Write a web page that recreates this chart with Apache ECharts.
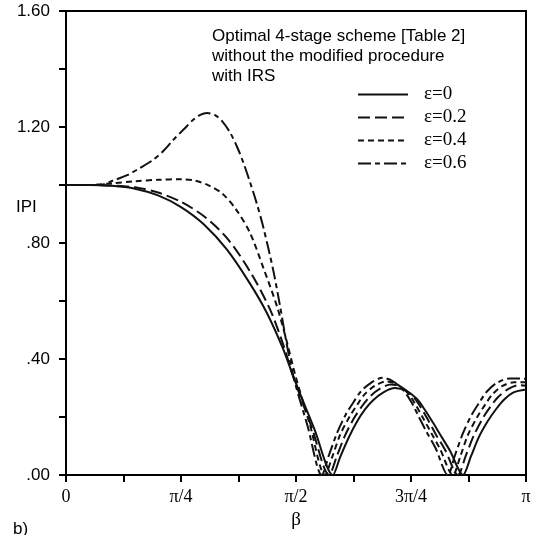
<!DOCTYPE html>
<html><head><meta charset="utf-8">
<script src="https://cdn.jsdelivr.net/npm/echarts@6/dist/echarts.min.js"></script>
<style>html,body{margin:0;padding:0;background:#fff}#c{width:534px;height:535px}</style>
</head><body><div id="c"></div>
<script>
// beta is given in units of pi (0 .. 1); values are |P|
const seriesNames = ['ε=0', 'ε=0.2', 'ε=0.4', 'ε=0.6'];

const eps0 = [[0,1],[0.05,1],[0.1,0.997],[0.15,0.987],[0.2,0.964],[0.25,0.924],[0.3,0.864],[0.35,0.777],[0.4,0.66],[0.437,0.558],[0.472,0.435],[0.495,0.336],[0.54,0.158],[0.58,0],
  [0.596,0.062],[0.615,0.13],[0.633,0.185],[0.65,0.226],[0.667,0.257],[0.69,0.285],[0.715,0.3],[0.74,0.29],[0.763,0.262],[0.78,0.225],[0.798,0.18],[0.815,0.135],[0.835,0.083],[0.863,0],
  [0.88,0.063],[0.897,0.129],[0.917,0.186],[0.934,0.225],[0.951,0.258],[0.973,0.285],[1.0,0.295]];

const eps02 = [[0,1],[0.05,1],[0.1,0.998],[0.15,0.992],[0.2,0.974],[0.25,0.942],[0.3,0.892],[0.35,0.817],[0.4,0.702],[0.443,0.573],[0.47,0.46],[0.495,0.335],[0.535,0.16],[0.572,0],
  [0.589,0.066],[0.606,0.134],[0.625,0.193],[0.642,0.234],[0.659,0.268],[0.681,0.296],[0.706,0.312],[0.729,0.303],[0.754,0.271],[0.771,0.234],[0.788,0.187],[0.804,0.14],[0.824,0.087],[0.852,0],
  [0.869,0.066],[0.886,0.134],[0.905,0.193],[0.922,0.234],[0.939,0.268],[0.961,0.296],[0.986,0.31],[1.0,0.308]];

const eps04 = [[0,1],[0.05,1],[0.1,1.006],[0.15,1.013],[0.2,1.018],[0.25,1.02],[0.28,1.015],[0.31,0.999],[0.34,0.97],[0.37,0.915],[0.4,0.835],[0.43,0.71],[0.459,0.58],[0.48,0.46],[0.5,0.335],[0.53,0.175],[0.563,0],
  [0.58,0.068],[0.596,0.139],[0.616,0.2],[0.633,0.242],[0.649,0.278],[0.671,0.307],[0.696,0.323],[0.719,0.313],[0.744,0.281],[0.76,0.242],[0.777,0.194],[0.794,0.145],[0.813,0.09],[0.841,0],
  [0.858,0.068],[0.874,0.139],[0.894,0.2],[0.911,0.242],[0.927,0.278],[0.949,0.307],[0.974,0.32],[1.0,0.32]];

const eps06 = [[0,1],[0.05,1],[0.074,1.0],[0.1,1.014],[0.133,1.034],[0.16,1.058],[0.189,1.086],[0.212,1.118],[0.233,1.155],[0.256,1.192],[0.276,1.224],[0.292,1.242],[0.307,1.248],[0.324,1.241],[0.341,1.217],[0.357,1.18],[0.372,1.131],[0.386,1.075],[0.4,1.01],[0.414,0.94],[0.428,0.86],[0.45,0.71],[0.465,0.585],[0.48,0.45],[0.495,0.335],[0.525,0.17],[0.556,0],
  [0.572,0.07],[0.589,0.144],[0.608,0.208],[0.625,0.251],[0.641,0.288],[0.663,0.318],[0.688,0.335],[0.709,0.325],[0.734,0.291],[0.751,0.251],[0.767,0.201],[0.783,0.151],[0.803,0.094],[0.83,0],
  [0.846,0.07],[0.863,0.144],[0.882,0.208],[0.899,0.251],[0.915,0.288],[0.937,0.318],[0.965,0.333],[1.0,0.332]];

const xTickLabels = ['0', 'π/4', 'π/2', '3π/4', 'π'];
const yTickLabels = ['.00', '.40', '.80', '1.20', '1.60'];
const titleLines = ['Optimal 4-stage scheme [Table 2]', 'without the modified procedure', 'with IRS'];

const SANS = "'Liberation Sans', Arial, Helvetica, sans-serif";
const SERIF = "'Liberation Serif', 'Times New Roman', Times, serif";
const allData = [eps0, eps02, eps04, eps06];
const dashes = ['solid', [12, 5], [6, 4], [13, 4, 5, 4]];

const chart = echarts.init(document.getElementById('c'), null, {renderer: 'canvas'});
chart.setOption({
  animation: false,
  backgroundColor: '#fff',
  title: {
    text: titleLines.join('\n'),
    left: 212, top: 26, padding: 0,
    textStyle: {fontFamily: SANS, fontSize: 17, fontWeight: 'normal', color: '#000', lineHeight: 20}
  },
  legend: {
    orient: 'vertical', left: 357, top: 85, padding: 0,
    itemWidth: 50, itemHeight: 14, itemGap: 4,
    itemStyle: {opacity: 0},
    data: seriesNames,
    textStyle: {fontFamily: SERIF, fontSize: 19, color: '#000', padding: [0, 0, 0, 11]}
  },
  grid: {left: 66, right: 8, top: 11, bottom: 60, show: true, borderColor: '#000', borderWidth: 2, backgroundColor: 'transparent'},
  xAxis: {
    type: 'value', min: 0, max: 1, interval: 0.125,
    name: 'β', nameLocation: 'middle', nameGap: 34,
    nameTextStyle: {fontFamily: SERIF, fontSize: 19, color: '#000'},
    axisLine: {show: true, lineStyle: {color: '#000', width: 2}},
    axisTick: {show: true, inside: false, length: 7, lineStyle: {color: '#000', width: 2}},
    splitLine: {show: false},
    axisLabel: {
      margin: 13, fontFamily: SERIF, fontSize: 18, color: '#000',
      formatter: function (v) {
        const i = Math.round(v / 0.25);
        return Math.abs(v - i * 0.25) < 1e-6 ? xTickLabels[i] : '';
      }
    }
  },
  yAxis: {
    type: 'value', min: 0, max: 1.6, interval: 0.2,
    axisLine: {show: true, lineStyle: {color: '#000', width: 2}},
    axisTick: {show: true, inside: false, length: 7, lineStyle: {color: '#000', width: 2}},
    splitLine: {show: false},
    axisLabel: {
      margin: 16, fontFamily: SANS, fontSize: 17, color: '#000',
      formatter: function (v) {
        const i = Math.round(v / 0.4);
        return Math.abs(v - i * 0.4) < 1e-6 ? yTickLabels[i] : '';
      }
    }
  },
  graphic: [
    {type: 'text', left: 16, top: 199, style: {text: 'IPI', font: '17px ' + SANS, fill: '#000'}},
    {type: 'text', left: 13, top: 521, style: {text: 'b)', font: '17px ' + SANS, fill: '#000'}}
  ],
  series: allData.map(function (d, k) {
    return {
      name: seriesNames[k], type: 'line', data: d, smooth: 0.3,
      symbol: 'none', showSymbol: false,
      lineStyle: {color: '#111', width: 2, type: dashes[k]},
      itemStyle: {color: '#111'}
    };
  })
});
</script></body></html>
